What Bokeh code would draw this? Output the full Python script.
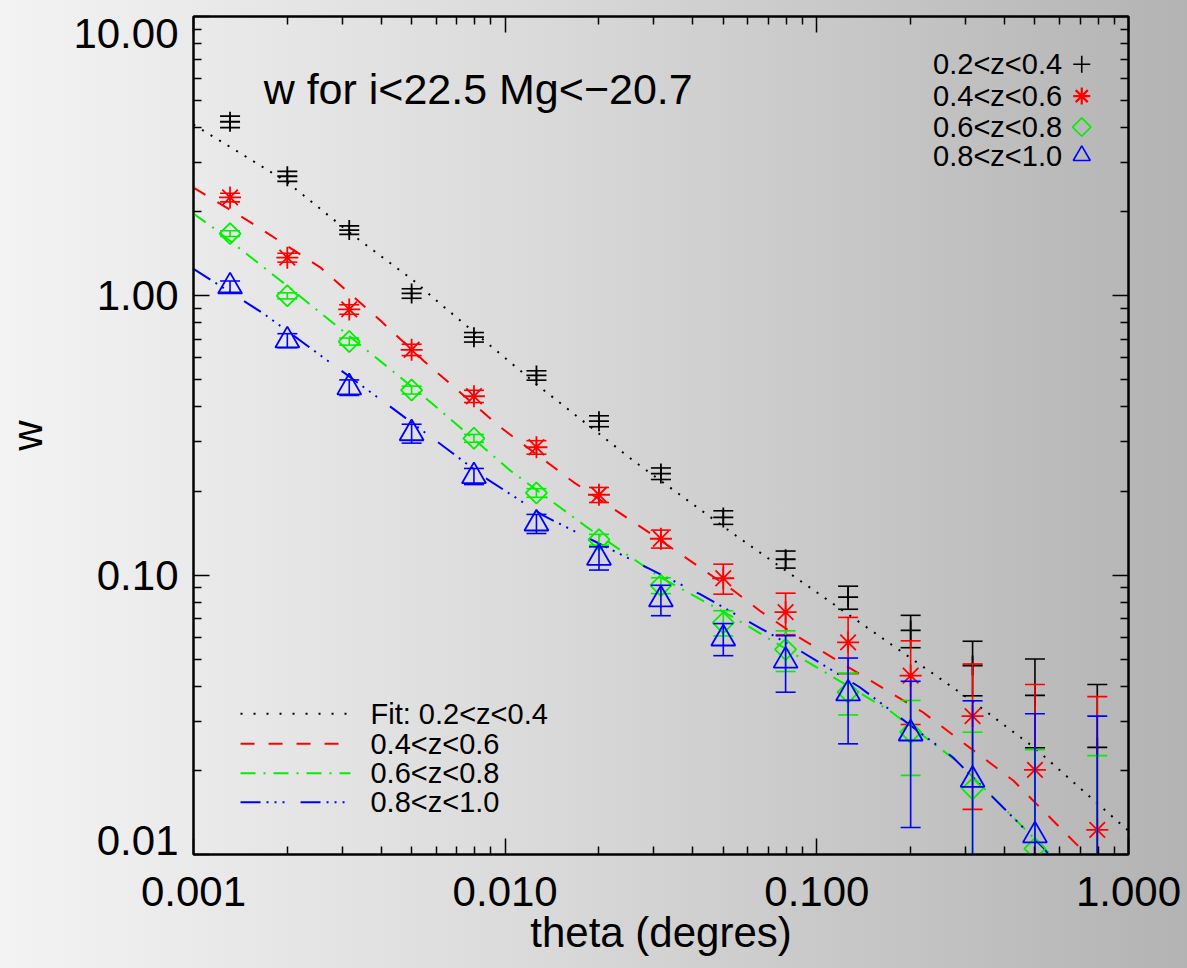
import numpy as np
from bokeh.plotting import figure
from bokeh.models import (FixedTicker, LogAxis, Label, ColumnDataSource)
from bokeh.embed import file_html
from bokeh.resources import INLINE

# ---------------- data ----------------
theta = [0.00131, 0.00200, 0.00316, 0.00501, 0.00794, 0.0126, 0.0200, 0.0316,
         0.0501, 0.0794, 0.126, 0.200, 0.316, 0.501, 0.794]

w_02_04 = [4.20, 2.68, 1.72, 1.02, 0.711, 0.519, 0.356, 0.231, 0.161, 0.114,
           0.0834, 0.0634, 0.0475, 0.0371, 0.0242]
e_02_04 = [0.20, 0.11, 0.06, 0.04, 0.028, 0.020, 0.016, 0.011, 0.009, 0.008,
           0.0079, 0.0084, 0.0105, 0.0130, 0.0164]

w_04_06 = [2.25, 1.37, 0.894, 0.641, 0.437, 0.287, 0.194, 0.135, 0.0975, 0.0737,
           0.0575, 0.0437, 0.0313, 0.0201, 0.01225]
e_04_06 = [0.08, 0.05, 0.035, 0.030, 0.022, 0.016, 0.012, 0.010, 0.012, 0.0125,
           0.0131, 0.0145, 0.0168, 0.0205, 0.0245]

w_06_08 = [1.67, 1.00, 0.686, 0.460, 0.309, 0.197, 0.134, 0.0919, 0.0676, 0.0542,
           0.0381, 0.0274, 0.0172, 0.0105, 0.0075]
e_06_08 = [0.04, 0.025, 0.020, 0.015, 0.010, 0.007, 0.006, 0.006, 0.007, 0.009,
           0.0065, 0.0082, 0.0102, 0.0132, 0.0151]

w_08_10 = [1.08, 0.692, 0.470, 0.322, 0.226, 0.153, 0.1153, 0.0818, 0.0593, 0.0494,
           0.0377, 0.0271, 0.0185, 0.0117, 0.0060]
e_08_10 = [0.05, 0.04, 0.030, 0.025, 0.015, 0.012, 0.011, 0.0102, 0.0078, 0.0113,
           0.0128, 0.0146, 0.0170, 0.0202, 0.0253]

# fit curves, points
fit1_theta = [0.00100, 0.00129, 0.00200, 0.00320, 0.00508, 0.00611, 0.01294, 0.02576,
              0.0540, 0.0882, 0.313, 0.497, 0.971, 1.000]
fit1_w = [4.10, 3.45, 2.55, 1.67, 1.135, 0.948, 0.471, 0.257, 0.1406, 0.0957,
          0.0356, 0.0242, 0.0125, 0.01216]

fit2_theta = [0.00100, 0.00152, 0.00255, 0.00397, 0.00547, 0.00964, 0.01660, 0.0299,
              0.0540, 0.0656, 0.0882, 0.219, 0.427, 0.731, 0.891]
fit2_w = [2.44, 1.837, 1.265, 0.817, 0.586, 0.339, 0.215, 0.1387, 0.0881, 0.0746,
          0.0596, 0.0323, 0.0184, 0.01005, 0.0079]

fit3_theta = [0.00100, 0.00115, 0.00190, 0.00460, 0.00575, 0.01038, 0.01828, 0.0314,
              0.0540, 0.0882, 0.1714, 0.280, 0.427, 0.558, 0.630]
fit3_w = [1.968, 1.762, 1.135, 0.512, 0.417, 0.237, 0.1486, 0.0984, 0.0706, 0.0508,
          0.0327, 0.0217, 0.01358, 0.01005, 0.0085]

fit4_theta = [0.00100, 0.00168, 0.00460, 0.00873, 0.01327, 0.02576, 0.0422, 0.0882,
              0.1374, 0.273, 0.531, 0.575]
fit4_w = [1.250, 0.863, 0.378, 0.2213, 0.1633, 0.1127, 0.0855, 0.0537, 0.0397,
          0.0223, 0.01062, 0.0095]

series_labels = ["0.2<z<0.4", "0.4<z<0.6", "0.6<z<0.8", "0.8<z<1.0"]
fit_labels = ["Fit: 0.2<z<0.4", "0.4<z<0.6", "0.6<z<0.8", "0.8<z<1.0"]
title_text = "w for i<22.5 Mg<\u221220.7"
x_label = "theta (degres)"
y_label = "w"
x_ticks = [0.001, 0.01, 0.1, 1.0]
x_tick_labels = ["0.001", "0.010", "0.100", "1.000"]
y_ticks = [0.01, 0.1, 1.0, 10.0]
y_tick_labels = ["0.01", "0.10", "1.00", "10.00"]

# ---------------- styles ----------------
FONT = "Liberation Sans"
colors = ["black", "#ff0000", "#00f000", "#0000ff"]
markers = ["cross", "asterisk", "square", "triangle"]
msizes = [20, 22, 15, 24]
mangles = [0, 0, np.pi / 4, 0]
dashes = ["2 8", "14 14", "15 8 2 8", "20 6 2 6 2 6 2 16"]
legend_dashes = ["2 11", "14 14", "15 8 2 8", "20 6 2 6 2 6 2 16"]

XR = (0.001, 1.0)
YR = (0.01, 10.0)
FW, FH = 935, 838

p = figure(x_axis_type="log", y_axis_type="log", x_range=XR, y_range=YR,
           frame_width=FW, frame_height=FH,
           min_border_left=193, min_border_right=59, min_border_top=16,
           min_border_bottom=114,
           output_backend="svg", toolbar_location=None)
p.styles = {"background-image": "linear-gradient(to right, #f3f3f3, #dadada 45%, #b3b3b3)"}
p.border_fill_color = None
p.background_fill_color = None
p.outline_line_color = "black"
p.outline_line_width = 2
p.grid.visible = False

minor_x = [m * 10.0 ** e for e in range(-3, 0) for m in range(2, 10)]
minor_y = [m * 10.0 ** e for e in range(-2, 1) for m in range(2, 10)]


def style_axis(ax, ticks, minor, overrides):
    ax.ticker = FixedTicker(ticks=ticks, minor_ticks=minor)
    ax.major_tick_in = 16
    ax.major_tick_out = 0
    ax.minor_tick_in = 8
    ax.minor_tick_out = 0
    ax.major_tick_line_width = 1.5
    ax.minor_tick_line_width = 1.5
    ax.axis_line_width = 2
    ax.axis_line_color = "black"
    if overrides is not None:
        ax.major_label_overrides = overrides
        ax.major_label_text_font = FONT
        ax.major_label_text_font_size = "42px"
        ax.major_label_text_color = "black"
    else:
        ax.major_label_text_color = None
        ax.major_label_text_font_size = "1px"
        ax.major_label_standoff = 0


xa = p.xaxis[0]
ya = p.yaxis[0]
style_axis(xa, x_ticks, minor_x, {t: l for t, l in zip(x_ticks, x_tick_labels)})
# the two end labels of the y axis sit a little inward (as in the original):
# empty extra lines nudge them toward the inside of the frame
y_over = {t: l for t, l in zip(y_ticks, y_tick_labels)}
y_over[y_ticks[0]] = y_tick_labels[0] + "\n\n\n"
y_over[y_ticks[-1]] = "\n" + y_tick_labels[-1]
style_axis(ya, y_ticks, minor_y, y_over)
ya.major_label_text_line_height = 0.2
xa.major_label_standoff = 22
ya.major_label_standoff = 15
xa.axis_label = x_label
ya.axis_label = y_label
for ax in (xa, ya):
    ax.axis_label_text_font = FONT
    ax.axis_label_text_font_size = "42px"
    ax.axis_label_text_font_style = "normal"
    ax.axis_label_text_color = "black"
xa.axis_label_standoff = 0
ya.axis_label_standoff = 19

ra = LogAxis()
style_axis(ra, y_ticks, minor_y, None)
p.add_layout(ra, "right")
ta = LogAxis()
style_axis(ta, x_ticks, minor_x, None)
p.add_layout(ta, "above")


def fxp(f):
    return XR[0] * (XR[1] / XR[0]) ** f


def fyp(f):
    return YR[0] * (YR[1] / YR[0]) ** f


# ---------------- fits ----------------
fits = [(fit1_theta, fit1_w), (fit2_theta, fit2_w), (fit3_theta, fit3_w), (fit4_theta, fit4_w)]
for (fx, fw), c, d in zip(fits, colors, dashes):
    p.line(fx, fw, line_color=c, line_width=2, line_dash=d)

# ---------------- points with error bars ----------------
all_w = [w_02_04, w_04_06, w_06_08, w_08_10]
all_e = [e_02_04, e_04_06, e_06_08, e_08_10]
for w, e, c, mk, ms, ma in zip(all_w, all_e, colors, markers, msizes, mangles):
    w = np.array(w)
    e = np.array(e)
    t = np.array(theta)
    up = w + e
    lo = w - e
    lo_draw = np.where(lo > 0, lo, YR[0] / 10)
    p.segment(x0=t, y0=lo_draw, x1=t, y1=up, line_color=c, line_width=1.6)
    p.scatter(t, up, marker="dash", size=20, line_color=c, line_width=1.6)
    ok = lo > 0
    p.scatter(t[ok], lo[ok], marker="dash", size=20, line_color=c, line_width=1.6)
    p.scatter(t, w, marker=mk, size=ms, angle=ma, line_color=c, fill_color=None,
              line_width=1.8)

# ---------------- title ----------------
p.add_layout(Label(x=fxp(0.075), y=fyp(0.914), text=title_text, text_font=FONT,
                   text_font_size="43px", text_baseline="middle", text_align="left",
                   text_color="black"))

# ---------------- top-right legend (label then symbol) ----------------
rows = [0.943, 0.905, 0.868, 0.834]
for lab, fy, c, mk, ang in zip(series_labels, rows, colors, markers, mangles):
    p.add_layout(Label(x=fxp(0.929), y=fyp(fy), text=lab, text_font=FONT,
                       text_font_size="29px", text_baseline="middle",
                       text_align="right", text_color="black"))
    src = ColumnDataSource(dict(x=[fxp(0.950)], y=[fyp(fy)]))
    p.scatter("x", "y", source=src, marker=mk, size=13 if mk == "square" else 17,
              angle=ang, line_color=c, fill_color=None,
              line_width=2.2 if mk == "asterisk" else 1.6)

# ---------------- bottom-left legend for the fits ----------------
lrows = [0.1679, 0.1321, 0.0970, 0.0624]
for lab, fy, c, d in zip(fit_labels, lrows, colors, legend_dashes):
    src = ColumnDataSource(dict(x=[fxp(0.0503), fxp(0.1679)], y=[fyp(fy), fyp(fy)]))
    p.line("x", "y", source=src, line_color=c, line_width=2, line_dash=d)
    p.add_layout(Label(x=fxp(0.1893), y=fyp(fy), text=lab, text_font=FONT,
                       text_font_size="29px", text_baseline="middle",
                       text_align="left", text_color="black"))

open("out.html", "w").write(file_html(p, INLINE))
